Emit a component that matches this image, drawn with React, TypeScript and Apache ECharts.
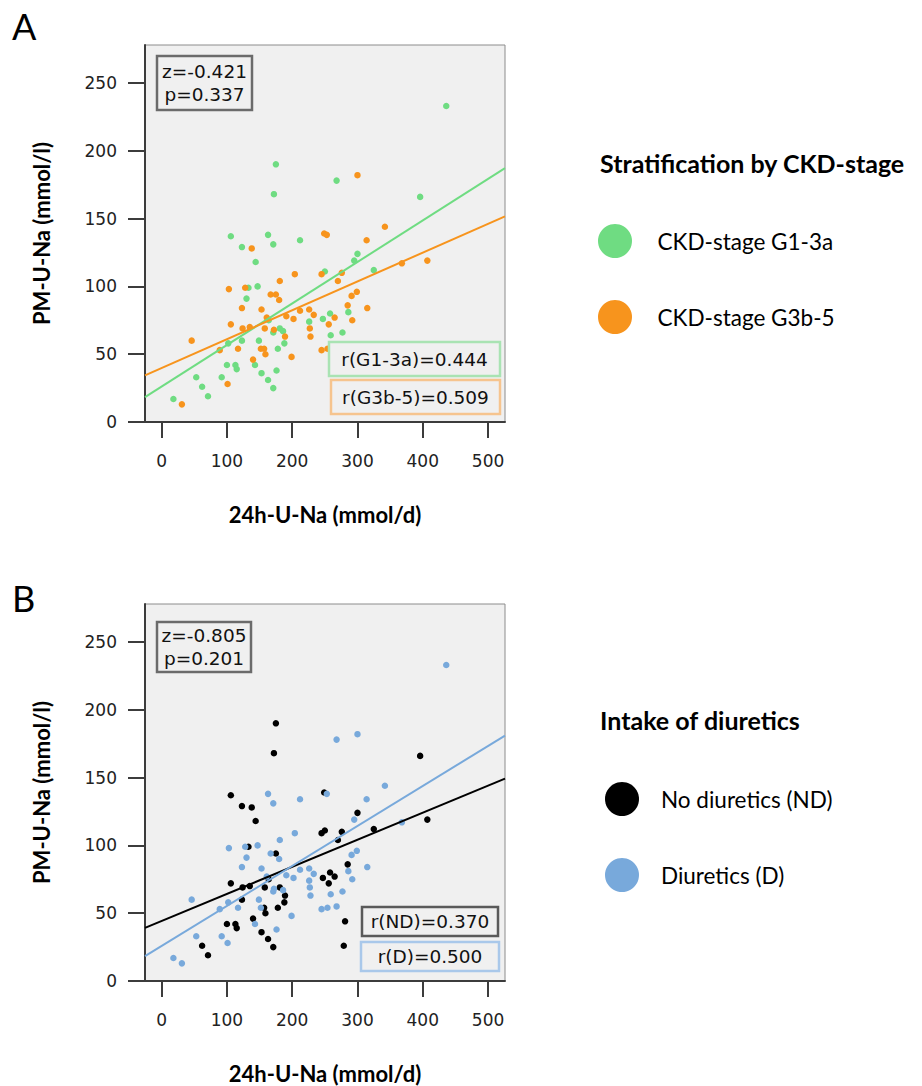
import React, { useEffect, useRef } from "react";
import * as echarts from "echarts";

// 24h urinary sodium (mmol/d) per patient
const naDay = [
  106, 163, 123, 138, 171, 212, 144, 249, 253, 204, 245, 181, 103, 128, 133, 147, 130, 167, 175, 180,
  123, 153, 161, 164, 191, 202, 212, 226, 233, 226, 247, 106, 124, 135, 158, 172, 171, 181, 186, 227,
  228, 189, 46, 123, 102, 149, 89, 117, 152, 157, 159, 178, 188, 199, 245, 140, 100, 113, 115, 143,
  176, 153, 53, 92, 163, 62, 101, 171, 71, 18, 31, 314, 300, 295, 276, 250, 325, 368, 407, 270,
  299, 291, 285, 315, 286, 292, 258, 265, 256, 277, 259, 268, 254, 281, 279, 175, 172, 436, 268, 300,
  396, 342,
];
// spot urine sodium (mmol/l) per patient
const pmNa = [
  137, 138, 129, 128, 131, 134, 118, 139, 138, 109, 109, 104, 98, 99, 99, 100, 91, 94, 94, 90,
  84, 83, 77, 75, 78, 76, 82, 83, 79, 74, 76, 72, 69, 70, 69, 68, 66, 69, 67, 69,
  63, 63, 60, 60, 58, 60, 53, 54, 54, 54, 50, 54, 58, 48, 53, 46, 42, 42, 39, 42,
  38, 36, 33, 33, 31, 26, 28, 25, 19, 17, 13, 134, 124, 119, 110, 111, 112, 117, 119, 104,
  96, 93, 86, 84, 81, 75, 80, 77, 72, 66, 64, 55, 54, 44, 26, 190, 168, 233, 178, 182,
  166, 144,
];
// CKD stage group: G = G1-3a, O = G3b-5
const ckdStage = [
  "G", "G", "G", "O", "G", "G", "G", "O", "O", "O", "O", "O", "O", "O", "G", "G", "G", "O", "O", "O",
  "O", "O", "O", "G", "O", "O", "O", "O", "O", "G", "G", "O", "O", "O", "O", "O", "G", "G", "G", "O",
  "O", "O", "O", "G", "G", "G", "O", "O", "O", "O", "O", "G", "G", "O", "O", "O", "G", "G", "G", "G",
  "G", "G", "G", "G", "G", "G", "O", "G", "G", "G", "O", "O", "G", "G", "O", "G", "G", "O", "O", "O",
  "O", "O", "O", "O", "G", "O", "G", "O", "O", "G", "G", "O", "O", "G", "G", "G", "G", "G", "G", "O",
  "G", "O",
];
// diuretics intake: N = no diuretics, D = diuretics
const diuretics = [
  "N", "D", "N", "N", "D", "D", "N", "N", "D", "D", "N", "D", "D", "D", "N", "D", "D", "D", "N", "D",
  "D", "D", "D", "N", "D", "D", "D", "D", "D", "D", "N", "N", "N", "N", "N", "D", "D", "N", "D", "D",
  "D", "N", "D", "N", "D", "D", "D", "D", "D", "N", "N", "N", "N", "D", "D", "N", "N", "N", "N", "D",
  "D", "N", "D", "D", "N", "N", "D", "N", "N", "D", "D", "D", "N", "D", "N", "N", "N", "D", "N", "N",
  "D", "D", "N", "D", "D", "D", "N", "N", "N", "D", "D", "D", "D", "N", "N", "N", "N", "D", "D", "D",
  "N", "D",
];

const xTicks = [0, 100, 200, 300, 400, 500];
const yTicks = [0, 50, 100, 150, 200, 250];
const xMin = -25.5;
const xMax = 526;
const yMax = 278;

// regression lines: [intercept, slope]
const fitG13a = [26.2, 0.306];
const fitG3b5 = [39.8, 0.2127];
const fitND = [44.3, 0.1995];
const fitD = [25.8, 0.295];

const statsA = ["z=-0.421", "p=0.337"];
const statsB = ["z=-0.805", "p=0.201"];
const rA = ["r(G1-3a)=0.444", "r(G3b-5)=0.509"];
const rB = ["r(ND)=0.370", "r(D)=0.500"];

const GREEN = "#6fdc82";
const ORANGE = "#f7941d";
const BLACK = "#000000";
const BLUE = "#78a9db";
const AXIS = "#3c3c3c";

const points = naDay.map((x, i) => [x, pmNa[i]]);
const pick = (arr: string[], v: string) => points.filter((_, i) => arr[i] === v);
const fitData = (f: number[]) => [
  [xMin, f[0] + f[1] * xMin],
  [xMax, f[0] + f[1] * xMax],
];

const tickFont = { fontFamily: "DejaVu Sans", fontSize: 17, color: "#222" };
const titleFont = { fontFamily: "Lato", fontWeight: "bold" as const, fontSize: 22, color: "#000" };

function makeX(gridIndex: number) {
  return {
    type: "value",
    gridIndex,
    min: xMin,
    max: xMax,
    name: "24h-U-Na (mmol/d)",
    nameLocation: "middle",
    nameGap: 81,
    nameTextStyle: titleFont,
    axisLine: { show: true, onZero: false, lineStyle: { color: AXIS, width: 2 } },
    axisTick: { show: true, length: 16, customValues: xTicks, lineStyle: { color: AXIS, width: 2 } },
    axisLabel: { customValues: xTicks, margin: 30, ...tickFont },
    splitLine: { show: false },
  };
}
function makeY(gridIndex: number) {
  return {
    type: "value",
    gridIndex,
    min: 0,
    max: yMax,
    name: "PM-U-Na (mmol/l)",
    nameLocation: "middle",
    nameGap: 93,
    nameRotate: 90,
    nameTextStyle: titleFont,
    axisLine: { show: true, onZero: false, lineStyle: { color: AXIS, width: 2 } },
    axisTick: { show: true, length: 17, customValues: yTicks, lineStyle: { color: AXIS, width: 2 } },
    axisLabel: { customValues: yTicks, margin: 28, ...tickFont },
    splitLine: { show: false },
  };
}

const annoFont = '18.5px "DejaVu Sans"';
function box(x: number, y: number, w: number, h: number, stroke: string, text: string) {
  return [
    { type: "rect", shape: { x, y, width: w, height: h }, style: { fill: "#f0f0f0", stroke, lineWidth: 2.5 }, z: 10 },
    {
      type: "text",
      x: x + w / 2,
      y: y + h / 2,
      z: 11,
      style: { text, font: annoFont, fill: "#111", align: "center", verticalAlign: "middle", lineHeight: 23 },
    },
  ];
}

const legendText = { fontFamily: "Lato", fontSize: 22.5, color: "#000" };

export default function App() {
  const ref = useRef<HTMLDivElement>(null);
  useEffect(() => {
    if (!ref.current) return;
    const chart = echarts.init(ref.current, null, { renderer: "svg" });
    const scatter = (name: string, data: number[][], color: string, idx: number) => ({
      type: "scatter",
      name,
      data,
      xAxisIndex: idx,
      yAxisIndex: idx,
      symbolSize: 6.5,
      itemStyle: { color, opacity: 1 },
      silent: true,
    });
    const line = (name: string, f: number[], color: string, idx: number) => ({
      type: "line",
      name,
      data: fitData(f),
      xAxisIndex: idx,
      yAxisIndex: idx,
      symbol: "none",
      lineStyle: { color, width: 2 },
      silent: true,
      z: 3,
    });
    chart.setOption({
      animation: false,
      backgroundColor: "#ffffff",
      grid: [
        { left: 145, top: 45, width: 360, height: 377, show: true, backgroundColor: "#f0f0f0", borderColor: "#8c8c8c", borderWidth: 1 },
        { left: 145, top: 604, width: 360, height: 377, show: true, backgroundColor: "#f0f0f0", borderColor: "#8c8c8c", borderWidth: 1 },
      ],
      xAxis: [makeX(0), makeX(1)],
      yAxis: [makeY(0), makeY(1)],
      legend: [
        {
          orient: "vertical",
          left: 593,
          top: 219,
          icon: "circle",
          itemWidth: 75,
          itemHeight: 34,
          itemGap: 42,
          selectedMode: false,
          data: ["CKD-stage G1-3a", "CKD-stage G3b-5"],
          textStyle: legendText,
        },
        {
          orient: "vertical",
          left: 600,
          top: 777,
          icon: "circle",
          itemWidth: 68,
          itemHeight: 34,
          itemGap: 42,
          selectedMode: false,
          data: ["No diuretics (ND)", "Diuretics (D)"],
          textStyle: legendText,
        },
      ],
      graphic: [
        { type: "text", x: 12, y: 26, style: { text: "A", font: '36px "Lato"', fill: "#000", verticalAlign: "middle" } },
        { type: "text", x: 12, y: 598, style: { text: "B", font: '36px "Lato"', fill: "#000", verticalAlign: "middle" } },
        { type: "text", x: 600, y: 163, style: { text: "Stratification by CKD-stage", font: 'bold 25px "Lato"', fill: "#000", verticalAlign: "middle" } },
        { type: "text", x: 600, y: 720, style: { text: "Intake of diuretics", font: 'bold 25px "Lato"', fill: "#000", verticalAlign: "middle" } },
        ...box(157, 56, 95, 54, "#6b6b6b", statsA.join("\n")),
        ...box(329, 342, 171, 34, "#a9e3b3", rA[0]),
        ...box(331, 380, 169, 34, "#f6c48e", rA[1]),
        ...box(157, 622, 94, 50, "#6b6b6b", statsB.join("\n")),
        ...box(362, 907, 136, 29, "#5a5a5a", rB[0]),
        ...box(361, 942, 138, 29, "#a9c8ea", rB[1]),
      ],
      series: [
        scatter("CKD-stage G1-3a", pick(ckdStage, "G"), GREEN, 0),
        scatter("CKD-stage G3b-5", pick(ckdStage, "O"), ORANGE, 0),
        line("fit G1-3a", fitG13a, GREEN, 0),
        line("fit G3b-5", fitG3b5, ORANGE, 0),
        scatter("No diuretics (ND)", pick(diuretics, "N"), BLACK, 1),
        scatter("Diuretics (D)", pick(diuretics, "D"), BLUE, 1),
        line("fit ND", fitND, BLACK, 1),
        line("fit D", fitD, BLUE, 1),
      ],
    });
    return () => chart.dispose();
  }, []);
  return <div ref={ref} style={{ position: "absolute", left: 0, top: 0, width: 922, height: 1086 }} />;
}
